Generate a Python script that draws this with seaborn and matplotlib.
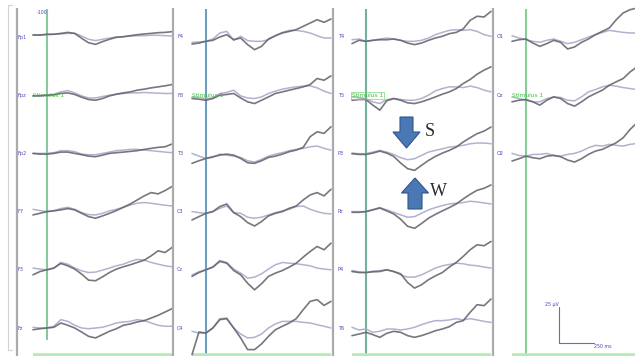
import matplotlib
matplotlib.use("Agg")
import matplotlib.pyplot as plt
from matplotlib.patches import FancyArrow
import pandas as pd
import seaborn as sns

sns.set_theme(style="white")
plt.rcParams["font.family"] = ["DejaVu Sans"]

# ---------------------------------------------------------------- data
TIMES_MS = [-100, -50, 0, 50, 100, 150, 200, 250, 300, 350, 400,
            450, 500, 550, 600, 650, 700, 750, 800, 850, 900]

COLUMNS = [
    ["Fp1", "Fpz", "Fp2", "F7", "F3", "Fz"],
    ["F4", "F8", "T3", "C3", "Cz", "C4"],
    ["T4", "T5", "P3", "Pz", "P4", "T6"],
    ["O1", "Oz", "O2"],
]

# grand-average waveforms (µV), condition S (dark) and condition W (light)
fp1_s = [1.4, 1.4, 1.9, 1.9, 2.5, 3.2, 2.5, -0.9, -4.0, -5.1, -3.2, -1.6, -0.2, 0.2, 0.9, 1.6, 2.1, 2.5, 3.0, 3.2, 3.7]
fp1_w = [1.4, 1.2, 1.6, 1.9, 2.1, 2.5, 2.5, 0.7, -1.6, -2.5, -1.6, -0.7, 0.0, 0.2, 0.7, 0.9, 0.9, 1.2, 1.2, 0.9, 0.7]
fpz_s = [-0.5, -0.5, 0.0, 0.2, 1.2, 1.6, 0.5, -1.4, -3.0, -3.5, -2.3, -0.5, 0.7, 1.6, 2.3, 3.5, 4.2, 5.1, 5.8, 6.5, 7.4]
fpz_w = [-0.5, -0.2, 0.0, 0.7, 2.3, 3.2, 1.6, -0.5, -1.9, -1.9, -0.9, 0.0, 0.7, 1.2, 1.6, 1.6, 1.9, 1.6, 1.4, 1.2, 1.2]
fp2_s = [0.0, -0.5, -0.5, 0.0, 0.9, 0.9, 0.0, -0.9, -1.9, -2.3, -1.2, 0.0, 0.5, 0.9, 1.4, 1.9, 2.8, 3.5, 4.2, 4.6, 6.5]
fp2_w = [0.0, 0.0, 0.0, 0.5, 1.9, 1.9, 1.2, -0.5, -0.9, -0.9, 0.0, 0.9, 1.9, 2.3, 2.8, 2.8, 2.3, 1.9, 1.4, 0.9, 0.5]
f7_s = [-2.3, -1.2, 0.0, 0.5, 1.2, 2.1, 1.2, -1.2, -3.5, -4.6, -3.0, -1.2, 0.7, 3.0, 5.3, 8.1, 10.9, 13.2, 12.3, 14.6, 17.4]
f7_w = [1.6, 0.7, 0.0, 0.7, 2.1, 3.0, 1.6, -0.7, -2.1, -2.3, -1.2, 0.5, 1.6, 3.0, 4.6, 5.8, 6.3, 5.8, 5.1, 4.4, 3.9]
f3_s = [-3.5, -1.2, 0.0, 1.2, 4.4, 2.8, 0.5, -3.0, -7.2, -7.6, -4.9, -1.9, 0.5, 2.1, 3.5, 5.1, 6.7, 9.7, 13.2, 12.0, 15.5]
f3_w = [1.2, 0.5, 0.0, 1.2, 5.1, 3.9, 1.2, -0.7, -1.9, -1.6, -0.2, 1.2, 2.8, 3.9, 5.8, 7.2, 6.7, 5.1, 3.9, 2.8, 2.1]
fz_s = [-1.2, -0.5, 0.0, 0.5, 3.5, 1.9, 0.0, -2.8, -5.8, -6.9, -4.6, -2.3, -0.5, 1.9, 2.8, 4.2, 5.1, 6.9, 8.8, 11.1, 13.4]
fz_w = [0.5, 0.0, 0.0, 1.2, 5.8, 4.6, 1.9, 0.0, -0.5, 0.0, 0.5, 1.9, 3.5, 4.2, 4.6, 5.8, 5.1, 3.5, 1.9, 1.2, 1.2]

f4_s = [-4.9, -4.2, -3.0, -2.3, 0.0, 1.6, -1.9, -0.7, -5.3, -8.8, -6.5, -1.4, 0.9, 2.8, 3.9, 5.1, 7.4, 9.7, 12.0, 10.2, 12.5]
f4_w = [-3.7, -3.5, -3.0, -1.4, 2.8, 3.9, -2.3, 0.5, -2.5, -3.0, -3.0, -1.9, 0.9, 3.2, 4.6, 4.6, 3.9, 2.8, 0.9, -0.7, -0.7]
f8_s = [-2.3, -2.8, -3.5, -2.3, 0.0, 0.5, 1.2, -1.9, -4.6, -5.8, -3.5, -1.2, 1.2, 2.3, 3.5, 4.6, 5.8, 7.4, 11.6, 10.4, 13.4]
f8_w = [-1.2, -1.6, -2.3, -1.9, 1.2, 1.9, 3.5, -0.5, -1.9, -2.3, -1.2, 1.2, 2.8, 4.2, 5.1, 5.8, 6.3, 6.5, 5.1, 2.8, 1.2]
t3_s = [-6.9, -5.1, -3.5, -2.3, -1.2, -0.5, -1.2, -3.5, -6.5, -6.9, -5.1, -2.8, -1.9, -0.5, 1.2, 2.3, 4.2, 11.6, 15.0, 13.9, 18.5]
t3_w = [0.0, -1.9, -3.5, -2.8, -0.5, -1.2, -1.9, -2.8, -5.1, -6.0, -4.2, -1.9, -0.5, 0.5, 1.9, 2.8, 3.5, 4.6, 5.1, 3.5, 2.3]
c3_s = [-5.8, -3.5, -1.2, 0.0, 3.5, 5.3, -0.7, -3.5, -7.6, -10.0, -6.9, -3.0, -1.2, 0.0, 2.3, 3.9, 8.1, 11.6, 13.2, 10.9, 15.5]
c3_w = [0.0, -0.7, -1.2, 0.0, 2.3, 3.9, -0.7, -1.2, -3.9, -4.6, -3.9, -2.3, -0.7, 0.5, 1.6, 3.5, 3.9, 1.6, 0.0, -1.2, -1.6]
cz_s = [-4.6, -1.9, 0.0, 1.9, 5.8, 4.6, -0.5, -3.5, -9.3, -13.9, -9.7, -4.6, -2.3, -0.5, 1.9, 4.6, 8.8, 12.7, 16.2, 13.9, 18.5]
cz_w = [-3.5, -1.4, 0.0, 1.9, 6.5, 5.1, 0.5, -2.3, -5.8, -5.1, -2.8, 0.5, 3.5, 5.1, 4.6, 4.2, 3.5, 2.8, 1.2, 0.5, 0.0]
c4_s = [-18.5, -2.8, -3.5, 0.0, 5.8, 6.5, 0.0, -6.9, -15.0, -15.0, -11.1, -5.8, -1.2, 1.2, 3.5, 6.5, 12.7, 18.5, 19.7, 15.7, 18.5]
c4_w = [-2.3, -3.5, -3.5, 0.0, 6.5, 6.9, 0.0, -4.2, -6.9, -6.5, -4.2, 0.0, 2.8, 4.6, 4.6, 4.6, 3.9, 3.5, 2.3, 1.2, 0.0]

t4_s = [-4.6, -2.3, -3.0, -2.3, -1.9, -1.9, -1.4, -2.3, -4.2, -5.3, -4.2, -2.3, -0.7, 0.5, 2.3, 3.2, 5.6, 11.6, 14.4, 13.9, 17.8]
t4_w = [-1.9, -1.4, -3.0, -2.3, -1.4, -0.7, -1.4, -2.3, -3.0, -3.0, -2.3, -0.7, 1.6, 3.2, 4.6, 5.1, 4.6, 5.1, 3.9, 1.6, 0.5]
t5_s = [-3.5, -3.0, -3.0, -6.9, -10.4, -3.9, -2.3, -3.5, -5.3, -5.8, -4.6, -3.0, -1.2, 0.7, 2.3, 4.6, 8.1, 10.9, 14.6, 17.4, 19.7]
t5_w = [-1.2, -1.6, -2.5, -4.6, -5.8, -3.0, -2.3, -3.0, -3.5, -3.5, -2.3, 0.0, 3.0, 4.6, 5.8, 5.8, 5.3, 6.3, 5.3, 3.5, 2.3]
p3_s = [-0.2, -0.7, -0.7, 0.2, 1.6, 0.2, -2.1, -6.7, -10.6, -11.8, -8.3, -4.9, -2.1, 0.2, 2.1, 4.4, 7.9, 10.9, 13.7, 15.5, 18.3]
p3_w = [0.2, -0.2, -0.2, 0.9, 2.1, 0.9, -0.7, -3.0, -4.4, -3.7, -1.4, 0.9, 2.1, 3.2, 4.4, 4.9, 5.6, 6.7, 7.2, 7.2, 6.7]
pz_s = [-0.5, -0.5, 0.0, 1.2, 2.5, 0.5, -1.6, -5.3, -10.2, -11.6, -8.3, -4.6, -1.9, 0.5, 2.8, 5.3, 8.8, 12.0, 14.8, 16.2, 18.5]
pz_w = [0.0, 0.0, 0.0, 1.4, 2.8, 1.2, -0.5, -2.3, -3.9, -3.5, -1.2, 1.2, 2.8, 4.2, 5.3, 5.8, 6.3, 7.2, 6.7, 6.0, 5.3]
p4_s = [-1.2, -1.9, -1.9, -1.4, -1.2, 0.0, -1.2, -2.8, -8.8, -12.7, -10.4, -6.9, -4.2, -1.9, 1.9, 5.1, 9.3, 13.9, 17.4, 16.7, 19.7]
p4_w = [-0.5, -1.4, -1.9, -0.9, -0.5, 0.0, -1.2, -3.5, -5.1, -5.1, -3.5, -1.2, 1.2, 2.8, 3.7, 4.6, 4.2, 3.2, 2.8, 1.9, 1.2]
t6_s = [-5.3, -4.2, -3.0, -4.6, -6.5, -3.7, -2.3, -3.0, -5.3, -6.5, -5.3, -3.7, -1.9, -0.7, 0.9, 3.9, 5.1, 10.9, 16.2, 15.5, 20.1]
t6_w = [0.5, -1.4, -0.7, -3.0, -2.3, -0.7, -0.7, -1.4, -0.7, 0.5, 2.3, 3.9, 5.1, 5.1, 5.6, 6.5, 5.6, 6.5, 5.6, 4.6, 3.9]

o1_s = [-3.0, -1.9, -1.4, -4.2, -6.5, -4.6, -2.3, -3.7, -8.3, -6.9, -3.7, -1.4, 1.6, 3.9, 6.3, 12.0, 16.7, 19.0, 20.1]
o1_w = [0.9, -0.7, -1.9, -3.0, -3.7, -2.3, -1.4, -3.0, -4.6, -3.7, -1.9, 0.0, 1.6, 3.2, 4.6, 3.9, 3.2, 2.8, 2.8]
oz_s = [-4.6, -3.5, -3.0, -4.6, -6.9, -3.5, -1.2, -2.3, -5.8, -7.6, -4.6, -1.2, 1.2, 3.5, 6.9, 9.3, 11.6, 16.2, 19.7]
oz_w = [-1.2, -2.3, -3.5, -4.6, -4.6, -2.3, -1.2, -1.6, -3.5, -3.9, -1.2, 2.3, 3.9, 5.8, 6.9, 6.3, 5.3, 4.6, 3.9]
o2_s = [-5.3, -3.7, -1.9, -3.0, -3.7, -1.9, -1.4, -2.3, -4.6, -6.0, -3.7, -0.7, 1.6, 2.8, 5.1, 7.4, 10.9, 16.7, 21.3]
o2_w = [0.0, -1.4, -1.9, -0.7, -0.7, 0.0, -1.4, -1.9, -0.7, 0.0, 1.6, 3.9, 5.6, 5.1, 6.3, 5.6, 5.1, 6.3, 6.9]

WAVES = {
    "Fp1": (fp1_s, fp1_w), "Fpz": (fpz_s, fpz_w), "Fp2": (fp2_s, fp2_w),
    "F7": (f7_s, f7_w), "F3": (f3_s, f3_w), "Fz": (fz_s, fz_w),
    "F4": (f4_s, f4_w), "F8": (f8_s, f8_w), "T3": (t3_s, t3_w),
    "C3": (c3_s, c3_w), "Cz": (cz_s, cz_w), "C4": (c4_s, c4_w),
    "T4": (t4_s, t4_w), "T5": (t5_s, t5_w), "P3": (p3_s, p3_w),
    "Pz": (pz_s, pz_w), "P4": (p4_s, p4_w), "T6": (t6_s, t6_w),
    "O1": (o1_s, o1_w), "Oz": (oz_s, oz_w), "O2": (o2_s, o2_w),
}

SCALE_UV = 25
SCALE_MS = 250

# ---------------------------------------------------------------- layout
FIG_W, FIG_H = 635, 356
PX_PER_MS = 0.139
PX_PER_UV = 1.44
ROW0_PX = 37.0
ROW_STEP_PX = 58.2
TRACE_START_PX = [33, 192, 352, 512]
BORDER_PX = [17, 173, 333, 493]
LABEL_GAP_PX = [1, 4, 5, 4]

Y_TOP = ROW0_PX / PX_PER_UV
Y_BOT = Y_TOP - FIG_H / PX_PER_UV
ROW_STEP_UV = ROW_STEP_PX / PX_PER_UV


def y_at(px):
    """Data y (µV) for a vertical pixel position measured from the top."""
    return Y_TOP - px / PX_PER_UV


DARK = "#5f5f66"
LIGHT = "#a9a9cc"
GREEN_V = ["#86c99a", "#6c9fc2", "#72b0a0", "#86cf96"]
GREEN_BASE = "#b4ecb4"
LABEL_BLUE = "#4848c4"

rows = []
for c, chans in enumerate(COLUMNS):
    for r, ch in enumerate(chans):
        for cond, vals in zip(["S", "W"], WAVES[ch]):
            for t, v in zip(TIMES_MS, vals):
                rows.append({"column": c, "row": r, "channel": ch, "condition": cond,
                             "time": t, "uV": v, "y": v - r * ROW_STEP_UV})
df = pd.DataFrame(rows)

fig = plt.figure(figsize=(FIG_W / 100, FIG_H / 100), dpi=100)
fig.patch.set_facecolor("white")

col_axes = []
for c, chans in enumerate(COLUMNS):
    left_px = BORDER_PX[c] - 3
    width_px = 172
    ax = fig.add_axes([left_px / FIG_W, 0, width_px / FIG_W, 1])
    ax.patch.set_visible(False)
    x_left = TIMES_MS[0] - (TRACE_START_PX[c] - left_px) / PX_PER_MS
    ax.set_xlim(x_left, x_left + width_px / PX_PER_MS)
    ax.set_ylim(Y_BOT, Y_TOP)
    ax.axis("off")
    col_axes.append(ax)

    x_border = x_left + 3 / PX_PER_MS
    ax.vlines(x_border, y_at(FIG_H), y_at(8), color="#ababab", lw=1.6, zorder=1)

    # stimulus onset marker
    bottom_px = 340 if c == 0 else FIG_H
    ax.vlines(0, y_at(bottom_px), y_at(9), color=GREEN_V[c], lw=1.5, zorder=1)
    # baseline bar at the bottom of each column
    ax.hlines(y_at(354.5), TIMES_MS[0], TIMES_MS[-1], color=GREEN_BASE, lw=2.6, zorder=1)

    sub = df[df["column"] == c]
    for cond, color, lw, alpha in [("W", LIGHT, 1.1, 0.9), ("S", DARK, 1.2, 0.85)]:
        d = sub[sub["condition"] == cond]
        sns.lineplot(data=d, x="time", y="y", units="channel", estimator=None,
                     sort=False, color=color, lw=lw, alpha=alpha, legend=False,
                     ax=ax, zorder=3)

    for r, ch in enumerate(chans):
        ax.text(x_border + LABEL_GAP_PX[c] / PX_PER_MS, -r * ROW_STEP_UV, ch,
                fontsize=3.6, color=LABEL_BLUE, va="center", ha="left", zorder=4)

    stim_kw = dict(fontsize=4.2, color="#3cc43c", va="center", ha="left", zorder=5)
    if c == 2:
        stim_kw["bbox"] = dict(boxstyle="square,pad=0.15", fc="none", ec="#7ad67a", lw=0.5)
    ax.text(TIMES_MS[0], -ROW_STEP_UV, "Stimulus 1", **stim_kw)
    ax.set_xlabel("")
    ax.set_ylabel("")

# epoch start marker on the first column
col_axes[0].text(-35, y_at(12), "-100", fontsize=3.4, color=LABEL_BLUE,
                 ha="center", va="center")

# calibration bar in the last column
ax4 = col_axes[3]
sb_t = 238
sb_y = y_at(343)
ax4.plot([sb_t, sb_t, sb_t + SCALE_MS], [sb_y + SCALE_UV, sb_y, sb_y],
         color="#6a6ab8", lw=0.8)
ax4.text(sb_t - 5, sb_y + SCALE_UV + 1.5, f"{SCALE_UV} µV", fontsize=3.4,
         color=LABEL_BLUE, ha="right", va="center")
ax4.text(sb_t + SCALE_MS + 5, sb_y - 2.5, f"{SCALE_MS} ms", fontsize=3.4,
         color=LABEL_BLUE, ha="left", va="center")

# overlay for frame and annotations, in pixel units
oax = fig.add_axes([0, 0, 1, 1])
oax.patch.set_visible(False)
oax.set_xlim(0, FIG_W)
oax.set_ylim(FIG_H, 0)
oax.axis("off")
oax.plot([12, 8, 8, 12], [5, 5, 350, 350], color="#d2d2d2", lw=0.8)

arrow_kw = dict(length_includes_head=True, fc="#4a78b4", ec="#2f5688", lw=0.8, zorder=6)
oax.add_patch(FancyArrow(406.5, 117, 0, 31, width=13, head_width=27, head_length=16, **arrow_kw))
oax.add_patch(FancyArrow(415, 209, 0, -31, width=14, head_width=27, head_length=15, **arrow_kw))
oax.text(430, 131, "S", fontsize=13, family="Liberation Serif", color="#2a2a2a",
         ha="center", va="center")
oax.text(438, 191.5, "W", fontsize=13, family="Liberation Serif", color="#2a2a2a",
         ha="center", va="center")

fig.savefig("out.png", dpi=100, facecolor="white")
